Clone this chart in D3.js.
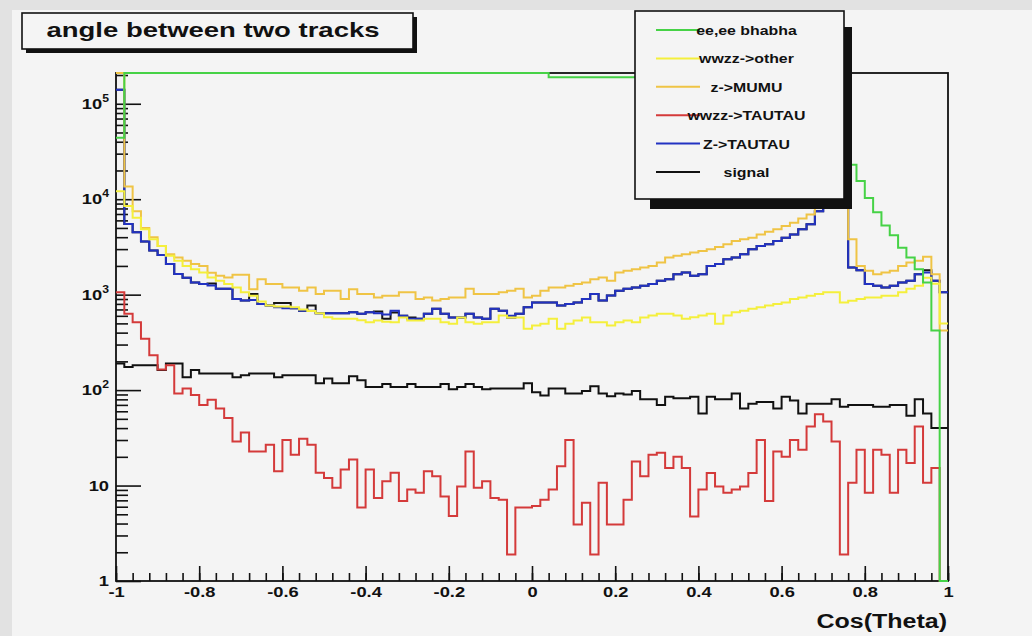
<!DOCTYPE html>
<html>
<head>
<meta charset="utf-8">
<script src="https://cdn.jsdelivr.net/npm/d3@7"></script>
<style>
  html, body { margin: 0; padding: 0; background: #e2e2e2; }
  svg { display: block; }
  text { font-family: "Liberation Sans", Arial, Helvetica, sans-serif; font-weight: bold; fill: #111; }
</style>
</head>
<body>
<svg id="chart" width="1032" height="636"></svg>
<script>
// ---- histogram range and axis labels ----
const xLow = -1, xHigh = 1;
const yMin = 1, yMax = 2.1e5;
const xTickValues = [-1, -0.8, -0.6, -0.4, -0.2, 0, 0.2, 0.4, 0.6, 0.8, 1];
const xTickLabels = ["-1", "-0.8", "-0.6", "-0.4", "-0.2", "0", "0.2", "0.4", "0.6", "0.8", "1"];
const yDecades = [1, 10, 100, 1000, 10000, 100000];
const yBase = ["1", "10", "10", "10", "10", "10"];
const yExp = ["", "", "2", "3", "4", "5"];
const titleText = "angle between two tracks";
const xTitle = "Cos(Theta)";
const legendLabels = ["ee,ee bhabha", "wwzz->other", "z->MUMU", "wwzz->TAUTAU", "Z->TAUTAU", "signal"];

// ---- bin contents, 100 bins of width 0.02 ----
const bhabha = [
  44000, 230000, 230000, 230000, 230000, 230000, 230000, 230000, 230000, 230000,
  230000, 230000, 230000, 230000, 230000, 230000, 230000, 230000, 230000, 230000,
  230000, 230000, 230000, 230000, 230000, 230000, 230000, 230000, 230000, 230000,
  230000, 230000, 230000, 230000, 230000, 230000, 230000, 230000, 230000, 230000,
  230000, 230000, 230000, 230000, 230000, 230000, 230000, 230000, 230000, 230000,
  230000, 230000, 190000, 190000, 190000, 190000, 190000, 190000, 190000, 190000,
  190000, 190000, 190000, 190000, 190000, 190000, 190000, 190000, 190000, 190000,
  190000, 190000, 190000, 190000, 190000, 190000, 190000, 190000, 190000, 190000,
  190000, 190000, 190000, 190000, 190000, 190000, 190000, 190000, 23000, 15500,
  10300, 7300, 5300, 4200, 3100, 2450, 1850, 1340, 420, 0
];
const wwzzOther = [
  12100, 8500, 6380, 4830, 3800, 3240, 2550, 2260, 2000, 1850,
  1710, 1510, 1400, 1290, 1190, 1057, 975, 850, 770, 750,
  750, 740, 700, 676, 640, 580, 560, 560, 560, 540,
  515, 537, 520, 515, 576, 537, 537, 560, 560, 515,
  495, 576, 515, 495, 515, 515, 605, 576, 576, 440,
  475, 495, 560, 440, 495, 537, 576, 515, 515, 475,
  515, 537, 515, 576, 605, 630, 630, 605, 560, 580,
  605, 630, 495, 605, 655, 680, 710, 738, 768, 800,
  830, 900, 935, 975, 1016, 1057, 1057, 830, 865, 900,
  935, 935, 975, 975, 1057, 1150, 1240, 1500, 1300, 500
];
const zMuMu = [
  250000, 13600, 7500, 5000, 4000, 3240, 2650, 2450, 2260, 2090,
  2000, 1700, 1580, 1510, 1620, 1620, 1140, 1450, 1290, 1290,
  1190, 1190, 1100, 1190, 1016, 1100, 1100, 900, 1140, 1016,
  1016, 935, 975, 975, 1057, 1057, 900, 935, 870, 900,
  935, 935, 1150, 1016, 1016, 1016, 1057, 1100, 1150, 935,
  975, 1100, 1190, 1190, 1240, 1290, 1340, 1450, 1510, 1400,
  1710, 1780, 1850, 1930, 2000, 2170, 2450, 2550, 2650, 2760,
  2870, 2990, 3160, 3370, 3650, 3800, 3950, 4270, 4560, 4830,
  5240, 5660, 6280, 6900, 8500, 10500, 13000, 16000, 3800, 2000,
  1780, 1640, 1710, 1780, 2000, 2170, 2260, 2500, 1640, 420
];
const wwzzTauTau = [
  1057, 630, 515, 345, 232, 164, 182, 92, 104, 89,
  70, 79, 64, 51, 29, 36, 22.8, 22.8, 26.7, 14.1,
  30, 21, 31, 26.7, 13.6, 12, 9.5, 14.7, 18.7, 5.9,
  14.7, 7.4, 11.1, 13.6, 6.9, 9.1, 8.4, 14.1, 12.5, 7.7,
  4.8, 9.8, 22.8, 9.5, 11.1, 7.4, 7.1, 1.9, 5.9, 5.9,
  6.1, 7.1, 9.1, 15.9, 30, 3.9, 6.6, 1.9, 10.7, 3.9,
  3.9, 7.1, 17.9, 12.5, 21, 22, 15.3, 20, 15.3, 4.75,
  9.1, 13.5, 9.8, 8.4, 9.1, 9.8, 13.5, 30, 6.9, 22.8,
  20, 30, 23.7, 41.5, 56, 47, 29, 1.9, 10.7, 23.7,
  8.4, 23.7, 21, 8.4, 23.7, 17.2, 41.5, 10.7, 15.3, 0
];
const zTauTau = [
  140000, 5500, 4500, 3600, 2900, 2600, 2100, 1650, 1500, 1340,
  1290, 1250, 1150, 1150, 900, 870, 880, 800, 768, 740,
  720, 720, 680, 680, 640, 640, 640, 640, 655, 630,
  655, 640, 620, 680, 600, 560, 560, 630, 710, 630,
  576, 576, 630, 576, 560, 710, 680, 600, 630, 738,
  830, 830, 830, 768, 800, 830, 900, 1016, 870, 980,
  1100, 1150, 1190, 1240, 1290, 1400, 1450, 1640, 1710, 1580,
  1640, 2000, 2090, 2350, 2450, 2650, 2990, 3240, 3370, 3650,
  3950, 4270, 4830, 5450, 7500, 9500, 12000, 15000, 1930, 1800,
  1290, 1240, 1190, 1240, 1340, 1400, 1640, 1710, 1400, 1057
];
const signal = [
  190, 175, 182, 182, 182, 162, 190, 190, 136, 162,
  149, 149, 149, 149, 136, 143, 149, 149, 149, 136,
  143, 143, 143, 143, 118, 132, 118, 118, 140, 127,
  108, 108, 116, 108, 108, 116, 108, 108, 108, 116,
  102, 108, 116, 108, 102, 104, 104, 104, 104, 118,
  95, 88, 104, 104, 92, 92, 98, 110, 92, 86,
  92, 90, 98, 80, 80, 70, 85, 82, 82, 85,
  57, 85, 80, 80, 92, 64, 72, 75, 75, 64,
  85, 78, 57, 72, 72, 72, 80, 67, 70, 70,
  70, 67, 67, 70, 70, 54, 80, 57, 40, 40
];
// unlabelled black histogram lying under the Z->TAUTAU curve
const tauTauBlack = [
  140000, 5500, 4500, 3600, 2900, 2600, 2100, 1650, 1500, 1340,
  1290, 1310, 1150, 1150, 900, 870, 1016, 800, 768, 820,
  820, 720, 680, 768, 640, 640, 640, 640, 655, 630,
  655, 665, 560, 650, 600, 576, 560, 630, 710, 630,
  576, 576, 630, 576, 560, 710, 680, 576, 630, 738,
  830, 830, 830, 768, 800, 830, 900, 1016, 870, 980,
  1100, 1150, 1190, 1240, 1290, 1400, 1450, 1640, 1710, 1580,
  1640, 2000, 2090, 2350, 2450, 2650, 2990, 3240, 3370, 3650,
  3950, 4270, 4830, 5450, 7500, 9500, 12000, 15000, 1930, 1800,
  1290, 1240, 1190, 1240, 1340, 1400, 1640, 1800, 1400, 1057
];

// ---- layout ----
const W = 1032, H = 636;
const frame = { left: 116, right: 948, top: 73, bottom: 581 };
const stretch = 1.22;   // canvas was widened: glyphs are wider than tall

// drawing order: last one ends up on top
const series = [
  { values: signal,      color: "#111111" },
  { values: tauTauBlack, color: "#151515" },
  { values: zTauTau,     color: "#2232c2" },
  { values: wwzzTauTau,  color: "#d43a3a" },
  { values: zMuMu,       color: "#efc445" },
  { values: wwzzOther,   color: "#f4ef3c" },
  { values: bhabha,      color: "#46d246" }
];
const legendColors = ["#46d246", "#f4ef3c", "#efc445", "#d43a3a", "#2232c2", "#111111"];

const svg = d3.select("#chart");
svg.append("rect").attr("x", 12).attr("y", 10).attr("width", W - 12).attr("height", H - 10).attr("fill", "#f4f4f4");

const x = d3.scaleLinear().domain([xLow, xHigh]).range([frame.left, frame.right]);
const y = d3.scaleLog().domain([yMin, yMax]).range([frame.bottom, frame.top]).clamp(true);

function widen(sel, f) {
  sel.each(function () {
    const w = this.getComputedTextLength();
    this.setAttribute("textLength", w * f);
    this.setAttribute("lengthAdjust", "spacingAndGlyphs");
  });
}

// frame
svg.append("rect")
  .attr("x", frame.left).attr("y", frame.top)
  .attr("width", frame.right - frame.left).attr("height", frame.bottom - frame.top)
  .attr("fill", "none").attr("stroke", "#111").attr("stroke-width", 1.8);

// x axis ticks
const xMinor = d3.range(0, 51).map(i => xLow + i * 0.04);
svg.append("g").attr("transform", `translate(0,${frame.bottom})`)
  .call(d3.axisBottom(x).tickValues(xMinor).tickSize(-8).tickFormat(""))
  .call(g => g.select(".domain").remove())
  .call(g => g.selectAll("line").attr("stroke", "#111").attr("stroke-width", 1.6));
const gx = svg.append("g").attr("transform", `translate(0,${frame.bottom})`)
  .call(d3.axisBottom(x).tickValues(xTickValues).tickSize(-15).tickPadding(5).tickFormat((d, i) => xTickLabels[i]))
  .call(g => g.select(".domain").remove())
  .call(g => g.selectAll("line").attr("stroke", "#111").attr("stroke-width", 1.6));
gx.selectAll("text").attr("font-size", 15).attr("fill", "#111")
  .attr("font-family", "Liberation Sans, Arial, sans-serif").attr("font-weight", "bold");
widen(gx.selectAll("text"), stretch);

// y axis ticks (log)
const yMinor = [];
yDecades.forEach(d => { for (let k = 2; k <= 9; k++) if (k * d <= yMax) yMinor.push(k * d); });
svg.append("g").attr("transform", `translate(${frame.left},0)`)
  .call(d3.axisLeft(y).tickValues(yMinor).tickSize(-12).tickFormat(""))
  .call(g => g.select(".domain").remove())
  .call(g => g.selectAll("line").attr("stroke", "#111").attr("stroke-width", 1.6));
svg.append("g").attr("transform", `translate(${frame.left},0)`)
  .call(d3.axisLeft(y).tickValues(yDecades).tickSize(-25).tickFormat(""))
  .call(g => g.select(".domain").remove())
  .call(g => g.selectAll("line").attr("stroke", "#111").attr("stroke-width", 1.6));

const yLab = svg.append("g");
yDecades.forEach((d, i) => {
  const t = yLab.append("text")
    .attr("x", frame.left - 7).attr("y", y(d) + 5)
    .attr("text-anchor", "end").attr("font-size", 15);
  t.append("tspan").text(yBase[i]);
  if (yExp[i]) t.append("tspan").attr("dy", -7).attr("font-size", 10).text(yExp[i]);
});
widen(yLab.selectAll("text"), stretch);

// histograms: outlines without the outer vertical drops
svg.append("clipPath").attr("id", "frameClip")
  .append("rect").attr("x", frame.left - 1).attr("y", frame.top - 2)
  .attr("width", frame.right - frame.left + 2).attr("height", frame.bottom - frame.top + 3);

function histPoints(vals) {
  const step = (xHigh - xLow) / vals.length;
  const pts = vals.map((v, i) => [xLow + i * step, v]);
  pts.push([xHigh, vals[vals.length - 1]]);
  return pts;
}
const stepLine = d3.line()
  .x(d => x(d[0]))
  .y(d => y(Math.max(d[1], yMin)))
  .curve(d3.curveStepAfter);

const hg = svg.append("g").attr("clip-path", "url(#frameClip)");
series.forEach(s => {
  hg.append("path").attr("d", stepLine(histPoints(s.values)))
    .attr("fill", "none").attr("stroke", s.color).attr("stroke-width", 2)
    .attr("stroke-linejoin", "miter");
});

// x axis title
const xt = svg.append("text").attr("x", 947).attr("y", 628).attr("text-anchor", "end")
  .attr("font-size", 20).text(xTitle);
widen(xt, 1.25);

// title box with shadow
svg.append("rect").attr("x", 26).attr("y", 17).attr("width", 391).attr("height", 36).attr("fill", "#111");
svg.append("rect").attr("x", 22).attr("y", 13).attr("width", 391).attr("height", 36)
  .attr("fill", "#f4f4f4").attr("stroke", "#111").attr("stroke-width", 1.6);
svg.append("text").attr("x", 213).attr("y", 37).attr("text-anchor", "middle")
  .attr("font-size", 21).attr("textLength", 333).attr("lengthAdjust", "spacingAndGlyphs").text(titleText);

// legend with shadow
const lg = { x: 635, y: 11, w: 209, h: 188 };
svg.append("rect").attr("x", 650).attr("y", 27).attr("width", 202).attr("height", 182).attr("fill", "#111");
svg.append("rect").attr("x", lg.x).attr("y", lg.y).attr("width", lg.w).attr("height", lg.h)
  .attr("fill", "#f4f4f4").attr("stroke", "#111").attr("stroke-width", 1.6);
const legendRowY = d3.scaleLinear().domain([0, 5]).range([30, 172]);
legendLabels.forEach((lab, i) => {
  const yy = legendRowY(i);
  svg.append("line").attr("x1", 656).attr("x2", 700).attr("y1", yy).attr("y2", yy)
    .attr("stroke", legendColors[i]).attr("stroke-width", 2);
  const t = svg.append("text").attr("x", 746.5).attr("y", yy + 5).attr("text-anchor", "middle")
    .attr("font-size", 13).text(lab);
  widen(t, stretch);
});
</script>
</body>
</html>
